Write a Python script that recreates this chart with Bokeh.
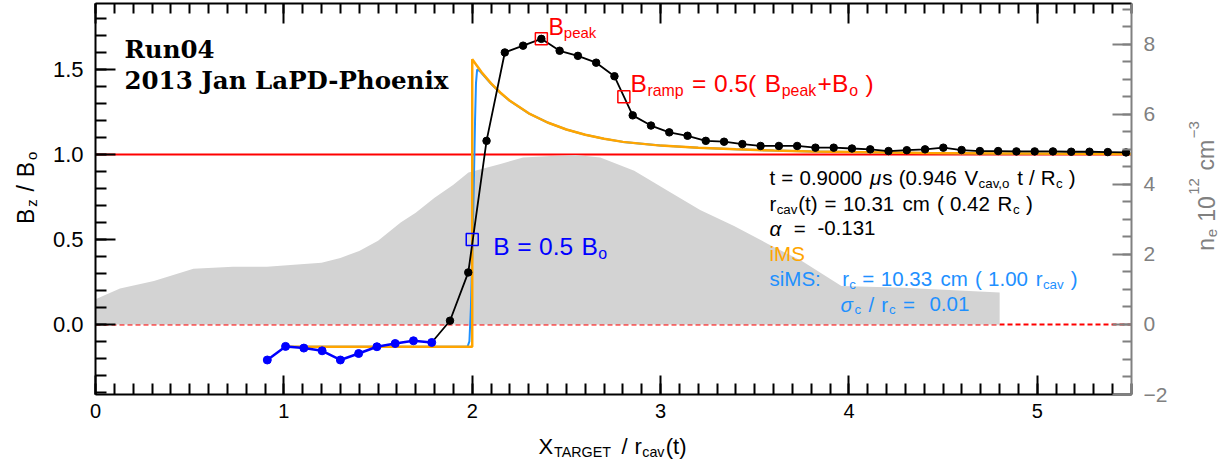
import math
import re
from bokeh.plotting import figure
from bokeh.layouts import row, column
from bokeh.models import (Range1d, LinearAxis, SingleIntervalTicker, PrintfTickFormatter, Label, Span)
from bokeh.embed import file_html
from bokeh.resources import INLINE

# ---------------- data ----------------
# measured Bz/Bo, negative (blue) part
neg_x = [0.912, 1.009, 1.106, 1.203, 1.300, 1.397, 1.494, 1.591, 1.688, 1.785]
neg_y = [-0.209, -0.129, -0.139, -0.155, -0.209, -0.171, -0.131, -0.112, -0.096, -0.106]
# measured Bz/Bo, black part
pos_x = [1.882, 1.979, 2.076, 2.173, 2.270, 2.367, 2.464, 2.561, 2.658, 2.755,
         2.852, 2.949, 3.046, 3.143, 3.240, 3.337, 3.434, 3.531, 3.628, 3.725,
         3.822, 3.919, 4.016, 4.113, 4.210, 4.307, 4.404, 4.501, 4.598, 4.695,
         4.792, 4.889, 4.986, 5.083, 5.180, 5.277, 5.374, 5.471]
pos_y = [0.022, 0.306, 1.08, 1.60, 1.64, 1.68, 1.61, 1.58, 1.54, 1.46,
         1.23, 1.17, 1.13, 1.11, 1.08, 1.075, 1.061, 1.05, 1.05, 1.05,
         1.04, 1.04, 1.035, 1.03, 1.02, 1.025, 1.03, 1.04, 1.026, 1.02,
         1.02, 1.018, 1.018, 1.018, 1.016, 1.016, 1.014, 1.012]
# iMS model
ims_x = [1.0, 2.0, 2.0, 2.05, 2.1, 2.15, 2.2, 2.3, 2.4, 2.5, 2.6, 2.7, 2.8,
         3.0, 3.2, 3.4, 3.6, 3.8, 4.0, 4.4, 4.8, 5.2, 5.5]
ims_y = [-0.131, -0.131, 1.56, 1.483, 1.418, 1.363, 1.316, 1.242, 1.188, 1.147, 1.116, 1.092, 1.074,
         1.052, 1.040, 1.031, 1.023, 1.018, 1.014, 1.009, 1.006, 1.004, 1.003]
# siMS model
sims_x = [1.0, 1.975, 1.985, 1.993, 2.0, 2.008, 2.015, 2.02, 2.026, 2.04, 2.06, 2.1, 2.15, 2.2, 2.3,
          2.4, 2.5, 2.6, 2.7, 2.8, 3.0, 3.2, 3.4, 3.6, 3.8, 4.0, 4.4, 4.8, 5.2, 5.5]
sims_y = [-0.131, -0.131, -0.10, 0.10, 0.40, 0.80, 1.20, 1.42, 1.50, 1.49, 1.466, 1.416, 1.362, 1.315, 1.242,
          1.188, 1.147, 1.116, 1.092, 1.074, 1.052, 1.040, 1.031, 1.023, 1.018, 1.014, 1.009, 1.006, 1.004, 1.003]
# electron density (10^12 cm^-3), right axis
ne_x = [0.0, 0.13, 0.31, 0.52, 0.73, 0.91, 1.09, 1.2, 1.3, 1.4, 1.5, 1.62, 1.7, 1.8, 1.9,
        1.98, 2.15, 2.27, 2.42, 2.55, 2.68, 2.86, 3.04, 3.21, 3.39, 3.57, 3.75, 3.96, 4.29, 4.80]
ne_y = [0.72, 1.03, 1.24, 1.59, 1.65, 1.65, 1.72, 1.76, 1.90, 2.10, 2.39, 2.91, 3.19, 3.62, 3.99,
        4.34, 4.58, 4.77, 4.81, 4.84, 4.77, 4.39, 3.81, 3.27, 2.81, 2.30, 1.81, 1.10, 1.05, 0.91]
# marked points
peak_x, peak_y = 2.367, 1.68
ramp_x, ramp_y = 2.805, 1.34
half_x, half_y = 2.0, 0.5
b_ref, zero_ref = 1.0, 0.0

# ---------------- page geometry (global pixels) ----------------
W, H = 1222, 459
LW, RW = 40, 47           # side strips for rotated axis titles
TOPH = 427                # height of the main row
FL, FR, FT, FB = 95, 1131, 3, 394   # frame box in page pixels
X0, X1 = 0.0, 5.5
Y0, Y1 = -0.412, 1.888
NE0, NE1 = -2.0, 9.165

PW = W - LW - RW
p = figure(width=PW, height=TOPH, x_range=Range1d(X0, X1), y_range=Range1d(Y0, Y1),
           output_backend="svg", toolbar_location=None, title=None,
           min_border_left=FL - LW, min_border_right=(LW + PW) - FR, min_border_top=FT,
           min_border_bottom=TOPH - FB,
           background_fill_color="white", border_fill_color="white")
p.outline_line_color = None
p.xgrid.grid_line_color = None
p.ygrid.grid_line_color = None
p.extra_y_ranges = {"ne": Range1d(NE0, NE1)}

FONT = "Liberation Sans"
GRAY = "#808080"


def style_axis(ax, color, major_len, minor_len, label_size, standoff):
    ax.axis_line_color = color
    ax.axis_line_width = 2
    ax.major_tick_line_color = color
    ax.minor_tick_line_color = color
    ax.major_tick_line_width = 2
    ax.minor_tick_line_width = 2
    ax.major_tick_in = major_len
    ax.major_tick_out = 0
    ax.minor_tick_in = minor_len
    ax.minor_tick_out = 0
    ax.major_label_text_font = FONT
    ax.major_label_text_font_size = label_size
    ax.major_label_text_color = color
    ax.major_label_standoff = standoff


xa = p.xaxis[0]
xa.ticker = SingleIntervalTicker(interval=1, num_minor_ticks=10)
style_axis(xa, "black", 19, 11, "20px", 9)

ya = p.yaxis[0]
ya.ticker = SingleIntervalTicker(interval=0.5, num_minor_ticks=5)
ya.formatter = PrintfTickFormatter(format="%.1f")
style_axis(ya, "black", 20, 11, "22px", 12)

top = LinearAxis(ticker=SingleIntervalTicker(interval=1, num_minor_ticks=10))
style_axis(top, "black", 20, 10, "1px", 0)
top.major_label_text_color = None
p.add_layout(top, "above")

ra = LinearAxis(y_range_name="ne", ticker=SingleIntervalTicker(interval=2, num_minor_ticks=4))
style_axis(ra, GRAY, 19, 9, "21px", 12)
p.add_layout(ra, "right")

# ---------------- glyphs ----------------
p.varea(x=ne_x, y1=[zero_ref] * len(ne_x), y2=ne_y, y_range_name="ne", fill_color="#D3D3D3")
p.add_layout(Span(location=b_ref, dimension="width", line_color="#FF0000", line_width=2, level="underlay"))
p.add_layout(Span(location=zero_ref, dimension="width", line_color="#FF0000", line_width=2,
                  line_dash="5 3", level="underlay"))

p.line(sims_x, sims_y, line_color="#1E90FF", line_width=2)
p.line(ims_x, ims_y, line_color="#FFA500", line_width=2.5)
p.line([neg_x[-1]] + pos_x, [neg_y[-1]] + pos_y, line_color="black", line_width=1.8)
p.scatter(pos_x, pos_y, size=7.5, color="black")
p.line(neg_x, neg_y, line_color="#0000FF", line_width=2.5)
p.scatter(neg_x, neg_y, size=8, color="#0000FF")

p.scatter([peak_x, ramp_x], [peak_y, ramp_y], marker="square", size=12,
          fill_color=None, line_color="#FF0000", line_width=1.5)
p.scatter([half_x], [half_y], marker="square", size=12,
          fill_color=None, line_color="#0000FF", line_width=1.5)


# ---------------- side strips for axis titles ----------------
def strip(w, h):
    f = figure(width=w, height=h, x_range=Range1d(0, w), y_range=Range1d(h, 0),
               output_backend="svg", toolbar_location=None, title=None,
               x_axis_type=None, y_axis_type=None,
               min_border_left=0, min_border_right=0, min_border_top=0, min_border_bottom=0,
               background_fill_color="white", border_fill_color="white")
    f.outline_line_color = None
    return f


fl = strip(LW, TOPH)
fr = strip(RW, TOPH)
fb = strip(W, H - TOPH)

# ---------------- text helpers ----------------
CW = {' ': 278, '(': 333, ')': 333, '+': 584, ',': 278, '-': 333, '.': 278, '/': 278, ':': 278,
      '=': 584, 'A': 667, 'B': 667, 'C': 722, 'D': 722, 'E': 667, 'G': 778, 'M': 833, 'R': 722,
      'S': 667, 'T': 611, 'V': 667, 'X': 667, 'a': 556, 'c': 500, 'e': 556, 'i': 222, 'k': 500,
      'm': 833, 'n': 556, 'o': 556, 'p': 556, 'r': 333, 's': 500, 't': 278, 'v': 500, 'z': 500,
      'μ': 576, 'α': 600, 'σ': 600, '−': 584}


def tw(s, fs):
    return sum(CW.get(c, 556) for c in s) * fs / 1000.0


def conv_main(px, py):
    return (X0 + (X1 - X0) * (px - FL) / (FR - FL), Y0 + (Y1 - Y0) * (FB - py) / (FB - FT))


def conv_left(px, py):
    return px, py


def conv_right(px, py):
    return px - (W - RW), py


def conv_bottom(px, py):
    return px, py - TOPH


def rich(fig, conv, px, py, segs, size, color, width=None, angle=0.0, sub=0.65, font=FONT,
         bshift=0.28, pshift=0.52):
    items = []
    for seg in segs:
        text, mode = seg[0], seg[1]
        fstyle = seg[2] if len(seg) > 2 else "normal"
        fs = size if mode == "n" else size * sub
        shift = 0.0 if mode == "n" else (bshift * size if mode == "b" else -pshift * size)
        items.append((text, fs, shift, tw(text, fs), fstyle))
    spread = 1.0
    if width is not None and len(items) > 1:
        total = sum(it[3] for it in items)
        last = items[-1][3]
        spread = (width - last) / (total - last)
    pos = 0.0
    for text, fs, shift, adv, fstyle in items:
        for m in re.finditer(r"\S+", text):
            off = tw(text[:m.start()], fs) * spread
            if angle == 0:
                gx, gy = px + pos + off, py + shift
            else:
                gx, gy = px + shift, py - (pos + off)
            x, y = conv(gx, gy)
            fig.add_layout(Label(x=x, y=y, text=m.group(), angle=angle,
                                 text_font=font, text_font_size=f"{fs:.1f}px",
                                 text_font_style=fstyle, text_color=color,
                                 text_baseline="alphabetic", text_align="left"))
        pos += adv * spread


# title block
for txt, py in [("Run04", 49), ("2013 Jan LaPD-Phoenix", 80)]:
    x, y = conv_main(124, py)
    p.add_layout(Label(x=x, y=y, text=txt, text_font="DejaVu Serif",
                       text_font_style="bold", text_font_size="24.5px", text_color="black",
                       text_baseline="alphabetic", text_align="left"))

RED, BLUE, ORANGE, DBLUE = "#FF0000", "#0000FF", "#FFA500", "#1E90FF"
rich(p, conv_main, 548, 26, [("B", "n"), ("peak", "b")], 23, RED)
rich(p, conv_main, 630, 83.3, [("B", "n"), ("ramp", "b"), (" = 0.5( B", "n"), ("peak", "b"), ("+B", "n"),
                               ("o", "b"), (" )", "n")], 24.5, RED, width=243)
rich(p, conv_main, 492.7, 246, [("B = 0.5 B", "n"), ("o", "b")], 24.5, BLUE, width=114)

TS = 20.5
rich(p, conv_main, 769, 177, [("t = 0.9000 ", "n"), ("μ", "n", "italic"), ("s (0.946 V", "n"),
                              ("cav,o", "b"), (" t / R", "n"), ("c", "b"), (" )", "n")],
     TS, "black", width=306)
rich(p, conv_main, 769, 203, [("r", "n"), ("cav", "b"), ("(t) = 10.31 cm ( 0.42 R", "n"), ("c", "b"),
                              (" )", "n")], TS, "black", width=263)
rich(p, conv_main, 769, 227.5, [("α", "n", "italic"), (" = -0.131", "n")], TS, "black", width=98)
rich(p, conv_main, 769, 253, [("iMS", "n")], TS, ORANGE)
rich(p, conv_main, 769, 278, [("siMS:", "n")], TS, DBLUE)
rich(p, conv_main, 841.7, 278, [("r", "n"), ("c", "b"), (" = 10.33 cm ( 1.00 r", "n"), ("cav", "b"),
                                (" )", "n")], TS, DBLUE, width=235)
rich(p, conv_main, 840, 303.5, [("σ", "n", "italic"), ("c", "b"), (" / r", "n"), ("c", "b"),
                                (" =  0.01", "n")], TS, DBLUE, width=125)

# axis titles (in their own strips)
rich(fb, conv_bottom, 538, 445.5, [("X", "n"), ("TARGET", "b"), (" / r", "n"), ("cav", "b"), ("(t)", "n")],
     22, "black", width=148, bshift=0.25)
rich(fl, conv_left, 25, 240.7, [("B", "n"), ("z", "b"), (" / B", "n"), ("o", "b")], 23, "black",
     width=78, angle=math.pi / 2)
rich(fr, conv_right, 1205.5, 270, [("n", "n"), ("e", "b"), (" 10", "n"), ("12", "p"), (" cm", "n"),
                                   ("−3", "p")], 23, GRAY, width=140, angle=math.pi / 2)

layout = column(row(fl, p, fr), fb)
open("out.html", "w").write(file_html(layout, INLINE))
